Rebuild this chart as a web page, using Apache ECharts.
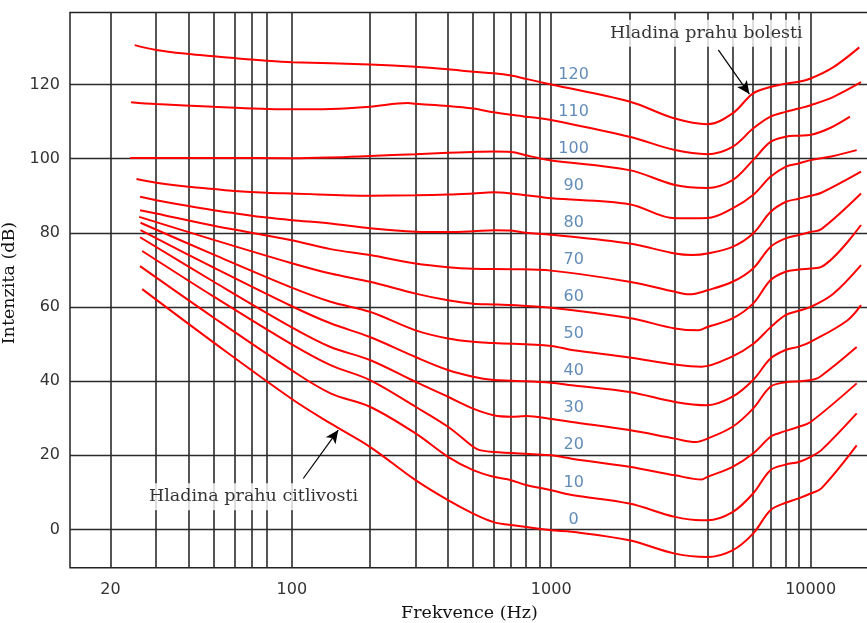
<!DOCTYPE html>
<html><head><meta charset="utf-8">
<script src="https://cdn.jsdelivr.net/npm/echarts@6/dist/echarts.min.js"></script>
<style>html,body{margin:0;padding:0;background:#fff}#c{width:867px;height:623px}</style>
</head><body><div id="c"></div>
<script>
// ---- axis ticks ----
const xTickLabels = [20, 100, 1000, 10000];
const xGridFreqs = [20,30,40,50,60,70,80,100,200,300,400,500,600,700,800,900,1000,2000,3000,4000,5000,6000,7000,8000,9000,10000];
const yTickLabels = [0, 20, 40, 60, 80, 100, 120];
const levels = [0,10,20,30,40,50,60,70,80,90,100,110,120];

// ---- equal-loudness curves: [frequency Hz, intensity dB] ----
const curve0 = [[26.5,64.8],[50,50.4],[100,35.2],[141,28.6],[200,22.3],[300,13.3],[400,7.9],[500,4.3],[600,2.0],[700,1.2],[1000,-0.2],[1200,-0.6],[2000,-2.9],[3000,-6.5],[4000,-7.4],[5000,-5.6],[6000,-1.1],[7000,5.2],[8000,7.2],[9000,8.4],[10000,9.7],[11000,11.1],[15050,22.7]];
const curve10 = [[26,71.0],[50,57.1],[100,42.9],[141,36.7],[200,33.1],[300,25.9],[400,19.6],[500,16.0],[600,14.2],[700,13.3],[800,12.0],[1000,10.6],[1200,9.3],[2000,7.0],[3000,3.4],[3800,2.5],[4000,2.5],[5000,4.7],[6000,9.7],[7000,16.0],[8000,17.5],[9000,18.2],[10000,19.6],[11000,21.4],[15050,31.3]];
const curve20 = [[26.5,75.1],[50,62.8],[100,49.9],[141,44.3],[200,40.3],[300,33.1],[400,27.7],[500,22.3],[530,21.4],[600,20.9],[1000,20.0],[1200,19.1],[2000,16.9],[3000,14.6],[3800,13.5],[4000,14.2],[5000,16.9],[6000,20.5],[7000,25.0],[7500,25.9],[9000,27.7],[10000,29.0],[15050,39.4]];
const curve30 = [[26,78.8],[50,66.8],[100,54.5],[141,49.2],[200,45.7],[300,39.8],[400,35.8],[500,32.6],[600,30.8],[700,30.4],[800,30.6],[1000,29.8],[1200,29.0],[2000,26.8],[3000,24.5],[3600,23.6],[4000,24.5],[5000,27.7],[6000,32.6],[7000,38.5],[8000,39.7],[9000,40.0],[10000,40.3],[10870,41.2],[15050,49.2]];
const curve40 = [[26.1,80.7],[50,70.6],[100,60.2],[141,55.6],[200,51.9],[300,46.5],[400,43.0],[500,41.2],[600,40.3],[700,40.1],[1000,39.6],[1200,38.9],[2000,37.1],[3000,34.4],[4000,33.5],[5000,35.8],[6000,40.3],[7000,46.1],[8000,48.4],[9000,49.3],[10000,50.6],[13810,56.3],[15640,60.5]];
const curve50 = [[26.1,82.7],[50,74.1],[100,65.2],[141,61.4],[200,58.7],[300,53.7],[400,51.5],[500,50.6],[600,50.3],[1000,49.5],[1200,48.4],[2000,46.4],[3000,44.5],[3800,43.9],[5000,46.7],[6000,50.0],[7000,54.5],[8000,57.8],[9000,59.0],[10000,60.0],[12200,63.5],[15640,71.3]];
const curve60 = [[25.8,84.3],[50,78.1],[100,71.8],[141,69.0],[200,66.8],[300,63.6],[400,61.8],[500,60.9],[600,60.7],[700,60.5],[1000,59.8],[2000,57.0],[3000,54.2],[3700,53.7],[4000,54.6],[5000,56.9],[6000,60.9],[7000,67.2],[8000,69.5],[9000,70.1],[10000,70.4],[11000,70.8],[15640,82.1]];
const curve70 = [[26,86.1],[30,85.2],[50,81.9],[100,78.0],[141,75.6],[200,74.0],[300,71.7],[400,70.7],[500,70.3],[700,70.2],[1000,69.8],[2000,66.8],[3000,64.1],[3400,63.4],[4000,64.5],[5000,66.8],[6000,70.4],[7000,76.2],[8000,78.5],[9000,79.4],[10000,80.2],[11000,81.0],[15640,90.6]];
const curve80 = [[26,89.7],[30,88.8],[40,87.2],[50,86.1],[60,85.3],[80,84.1],[100,83.4],[141,82.5],[200,81.2],[300,80.3],[400,80.2],[500,80.4],[600,80.7],[700,80.6],[800,80.0],[1000,79.5],[2000,77.1],[3000,74.4],[3500,74.0],[4000,74.4],[5000,76.2],[6000,79.8],[7000,85.6],[8000,88.3],[9000,89.2],[10000,90.0],[11000,90.8],[15640,96.5]];
const curve90 = [[25.2,94.5],[30,93.5],[40,92.4],[50,91.8],[60,91.3],[80,90.8],[100,90.6],[200,90.0],[300,90.1],[400,90.3],[500,90.6],[600,90.9],[700,90.6],[800,90.1],[900,89.7],[1000,89.3],[2000,87.7],[3000,83.9],[4000,84.0],[5000,86.6],[6000,90.2],[7000,95.1],[8000,97.8],[9000,98.7],[10000,99.6],[12000,100.6],[15050,102.3]];
const curve100 = [[23.8,100.2],[50,100.2],[100,100.1],[141,100.3],[200,100.7],[300,101.2],[400,101.6],[500,101.8],[600,101.9],[700,101.8],[800,100.9],[900,100.1],[1000,99.5],[2000,96.9],[3000,92.9],[4000,92.1],[5000,94.2],[6000,99.6],[7000,104.5],[8000,105.9],[9000,106.2],[10000,106.4],[12000,108.4],[14180,111.3]];
const curve110 = [[24,115.2],[30,114.7],[50,114.0],[100,113.3],[141,113.4],[200,114.0],[280,115.0],[300,114.8],[400,114.2],[500,113.5],[600,112.5],[700,111.8],[800,111.3],[900,110.9],[1000,110.4],[2000,105.9],[3000,102.3],[4000,101.2],[5000,103.2],[6000,108.1],[7000,111.3],[8000,112.6],[9000,113.5],[10000,114.4],[12200,116.6],[15640,120.6]];
const curve120 = [[24.8,130.6],[30,129.3],[40,128.2],[50,127.6],[60,127.1],[80,126.4],[100,126.0],[200,125.4],[300,124.8],[400,124.1],[500,123.4],[600,123.0],[700,122.4],[800,121.5],[900,120.7],[1000,120.0],[2000,115.4],[3000,110.8],[4000,109.3],[5000,112.2],[6000,117.6],[7000,119.3],[8000,120.2],[9000,120.7],[10000,121.6],[12200,124.6],[15400,130.0]];
const curves = [curve0,curve10,curve20,curve30,curve40,curve50,curve60,curve70,curve80,curve90,curve100,curve110,curve120];

// ---- curve labels & annotations ----
const levelLabelFreq = 1220;
const levelLabelOffset = 2.7;
const noteTexts = ['Hladina prahu citlivosti', 'Hladina prahu bolesti'];
const notePoints = [[71.2, 8.8], [3960, 133.8]];
const arrowTails = [[110.7, 13.75], [4406, 129.3]];
const arrowTips = [[151, 26.8], [5807, 117.4]];

const chart = echarts.init(document.getElementById('c'), null, {renderer: 'canvas'});

const series = curves.map((c, i) => ({
  type: 'line', name: String(levels[i]), data: c, smooth: 0.35,
  showSymbol: false, symbol: 'none', silent: true, z: 3,
  lineStyle: {color: '#ff0000', width: 2}
}));

series.push({
  type: 'scatter', name: 'levels', z: 4, silent: true,
  symbolSize: 1, itemStyle: {color: 'rgba(0,0,0,0)'},
  data: levels.map(l => ({name: String(l), value: [levelLabelFreq, l + levelLabelOffset]})),
  label: {show: true, position: 'inside', formatter: '{b}', color: '#3b6fa6',
    fontFamily: 'DejaVu Sans', fontSize: 16}
});

series.push({
  type: 'scatter', name: 'notes', z: 6, silent: true,
  symbolSize: 1, itemStyle: {color: 'rgba(0,0,0,0)'},
  data: noteTexts.map((t, i) => ({name: t, value: notePoints[i]})),
  label: {show: true, position: 'inside', formatter: '{b}', color: '#000',
    fontFamily: 'DejaVu Serif', fontSize: 17.5, backgroundColor: '#fff', padding: [5, 5, 4, 5]},
  markLine: {
    silent: true, symbol: ['none', 'arrow'], symbolSize: [9, 13],
    lineStyle: {color: '#000', width: 1.2, type: 'solid'},
    label: {show: false},
    data: arrowTails.map((t, i) => [{coord: t}, {coord: arrowTips[i]}])
  }
});

chart.setOption({
  animation: false,
  backgroundColor: '#fff',
  grid: {left: 70, top: 12.5, right: -2, bottom: 55.3, outerBoundsMode: 'none', containLabel: false,
    show: true, borderColor: '#222', borderWidth: 1.5, backgroundColor: 'transparent'},
  xAxis: {
    type: 'log', logBase: 10, min: 13.96, max: 16788,
    name: 'Frekvence (Hz)', nameLocation: 'middle', nameGap: 37,
    nameTextStyle: {fontFamily: 'DejaVu Serif', fontSize: 17.5, color: '#111'},
    axisLine: {show: false},
    axisTick: {show: false, customValues: xGridFreqs},
    axisLabel: {customValues: xTickLabels, formatter: v => String(Math.round(v)), margin: 14,
      fontFamily: 'DejaVu Sans', fontSize: 16, color: '#333'},
    splitLine: {show: true, lineStyle: {color: '#2a2a2a', width: 1.6}},
    minorSplitLine: {show: false}
  },
  yAxis: {
    type: 'value', min: -10.3, max: 139.4,
    name: 'Intenzita (dB)', nameLocation: 'middle', nameGap: 37, nameRotate: 90,
    nameTextStyle: {fontFamily: 'DejaVu Serif', fontSize: 17.5, color: '#111', padding: [0, 0, 0, 14]},
    axisLine: {show: false},
    axisTick: {show: false, customValues: yTickLabels},
    axisLabel: {customValues: yTickLabels, margin: 10,
      fontFamily: 'DejaVu Sans', fontSize: 16, color: '#333'},
    splitLine: {show: true, lineStyle: {color: '#2a2a2a', width: 1.4}}
  },
  series: series
});
</script>
</body></html>
